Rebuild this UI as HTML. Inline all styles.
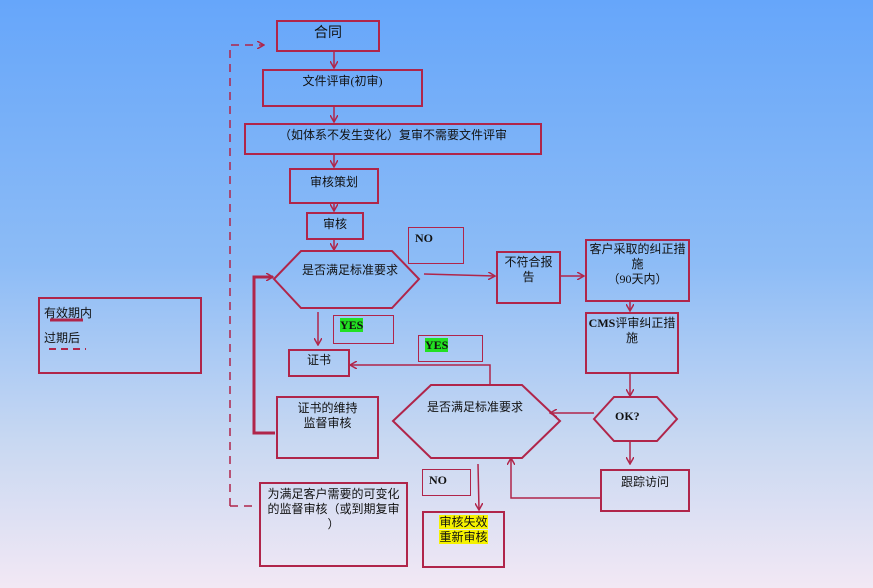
<!DOCTYPE html>
<html><head><meta charset="utf-8"><style>
body{margin:0;width:873px;height:588px;overflow:hidden;font-family:"Liberation Serif","Noto Sans CJK SC",sans-serif;}
.bg{position:absolute;left:0;top:0;width:873px;height:588px;background:linear-gradient(#66a6fa 0%,#8dbcf6 45%,#c8d8f2 75%,#f2e8f4 100%);}
.b{position:absolute;border:2px solid #b0254a;box-sizing:border-box;font-size:12px;color:#111;text-align:center;line-height:15px;}
svg{position:absolute;left:0;top:0}
.t{position:absolute;font-size:12px;color:#111;white-space:nowrap;line-height:14px;}
</style></head><body><div class="bg"></div>
<div class="b" style="left:276px;top:20px;width:104px;height:32px;font-size:14px;padding-top:4px">合同</div>
<div class="b" style="left:262px;top:69px;width:161px;height:38px;padding-top:3px">文件评审(初审)</div>
<div class="b" style="left:244px;top:123px;width:298px;height:32px;padding-top:3px">（如体系不发生变化）复审不需要文件评审</div>
<div class="b" style="left:289px;top:168px;width:90px;height:36px;padding-top:5px">审核策划</div>
<div class="b" style="left:306px;top:212px;width:58px;height:28px;padding-top:3px">审核</div>
<div class="b" style="left:408px;top:227px;width:56px;height:37px;border-width:1px;text-align:left;padding:3px 0 0 6px;font-weight:bold">NO</div>
<div class="b" style="left:496px;top:251px;width:65px;height:53px;padding-top:2px">不符合报<br>告</div>
<div class="b" style="left:585px;top:239px;width:105px;height:63px;padding-top:1px">客户采取的纠正措<br>施<br>（90天内）</div>
<div class="b" style="left:585px;top:312px;width:94px;height:62px;padding-top:2px"><b>CMS</b>评审纠正措<br>施</div>
<div class="b" style="left:333px;top:315px;width:61px;height:29px;border-width:1px;text-align:left;padding:2px 0 0 6px;font-weight:bold"><span style="background:#22e022">YES</span></div>
<div class="b" style="left:288px;top:349px;width:62px;height:28px;padding-top:2px">证书</div>
<div class="b" style="left:418px;top:335px;width:65px;height:27px;border-width:1px;text-align:left;padding:2px 0 0 6px;font-weight:bold"><span style="background:#22e022">YES</span></div>
<div class="b" style="left:276px;top:396px;width:103px;height:63px;padding-top:3px">证书的维持<br>监督审核</div>
<div class="b" style="left:600px;top:469px;width:90px;height:43px;padding-top:4px">跟踪访问</div>
<div class="b" style="left:422px;top:469px;width:49px;height:27px;border-width:1px;text-align:left;padding:3px 0 0 6px;font-weight:bold">NO</div>
<div class="b" style="left:422px;top:511px;width:83px;height:57px;padding-top:2px"><span style="background:#f5f200">审核失效<br>重新审核</span></div>
<div class="b" style="left:259px;top:482px;width:149px;height:85px;padding-top:3px">为满足客户需要的可变化<br>的监督审核（或到期复审<br>）</div>
<div class="b" style="left:38px;top:297px;width:164px;height:77px"></div>
<div class="t" style="left:44px;top:306px">有效期内</div>
<div class="t" style="left:44px;top:331px">过期后</div>
<div class="t" style="left:302px;top:263px">是否满足标准要求</div>
<div class="t" style="left:427px;top:400px">是否满足标准要求</div>
<div class="t" style="left:615px;top:409px;font-weight:bold">OK?</div>
<svg width="873" height="588" fill="none" stroke="#b0254a" stroke-width="2">
<defs><marker id="a" markerWidth="8" markerHeight="8" refX="7" refY="4" orient="auto" markerUnits="userSpaceOnUse"><path d="M0,0L7,4L0,8" stroke="#b0254a" stroke-width="1.5" fill="none"/></marker></defs>
<line x1="50" y1="320" x2="83" y2="320" stroke-width="3"/>
<line x1="49" y1="349" x2="86" y2="349" stroke-dasharray="7,5"/>
<polygon points="274,279 301,251 392,251 419,279 392,308 301,308"/>
<polygon points="393,421 431,385 522,385 560,421 522,458 431,458"/>
<polygon points="594,419 614,397 657,397 677,419 657,441 614,441"/>
<g stroke-width="1.5" marker-end="url(#a)">
<line x1="334" y1="52" x2="334" y2="68"/>
<line x1="334" y1="107" x2="334" y2="122"/>
<line x1="334" y1="155" x2="334" y2="167"/>
<line x1="334" y1="204" x2="334" y2="211"/>
<line x1="334" y1="240" x2="334" y2="250"/>
<line x1="424" y1="274" x2="495" y2="276"/>
<line x1="561" y1="276" x2="584" y2="276"/>
<line x1="630" y1="302" x2="630" y2="311"/>
<line x1="630" y1="374" x2="630" y2="396"/>
<line x1="630" y1="441" x2="630" y2="464"/>
<line x1="318" y1="312" x2="318" y2="345"/>
<polyline points="490,385 490,365 350,365"/>
<line x1="594" y1="413" x2="550" y2="413"/>
<polyline points="600,498 511,498 511,458"/>
<line x1="478" y1="464" x2="479" y2="510"/>
<polyline points="230,506 230,45 264,45" stroke-dasharray="8,6"/>
</g>
<line x1="230" y1="506" x2="253" y2="506" stroke-width="1.5" stroke-dasharray="8,6"/>
<polyline points="275,433 254,433 254,277 273,277" stroke-width="3" marker-end="url(#a)"/>
</svg>
</body></html>
